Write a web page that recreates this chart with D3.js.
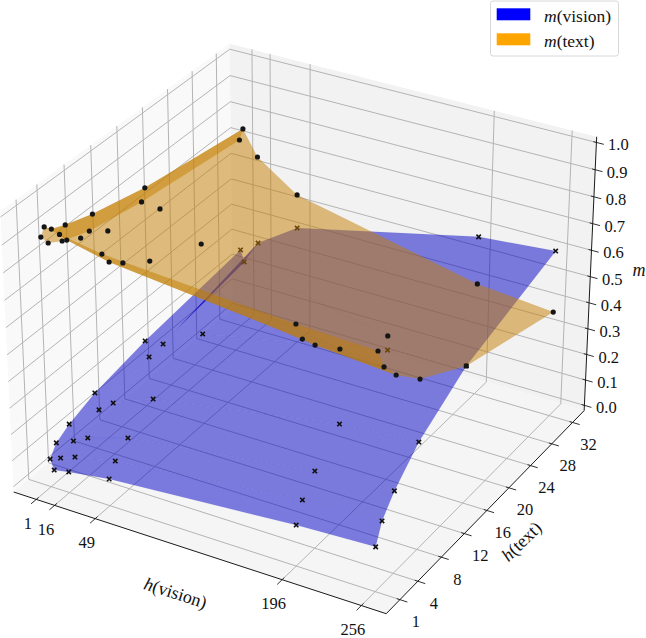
<!DOCTYPE html>
<html>
<head>
<meta charset="utf-8">
<script src="https://cdn.jsdelivr.net/npm/d3@7"></script>
<style>
  html, body { margin: 0; background: #fff; }
  svg { display: block; }
  text { font-family: "Liberation Serif", serif; fill: #111; }
</style>
</head>
<body>
<svg id="chart" width="646" height="638"></svg>
<script>
// Grid of hidden sizes at which the weights were measured
const hVision = [1, 4, 16, 49, 196, 256];
const hText = [1, 2, 4, 8, 16, 32];

// Modality weights, one row per hText value, one column per hVision value
const mVision = [
  [0.086, 0.048, 0.059, 0.082, 0.134, 0.147],
  [0.127, 0.073, 0.095, 0.129, 0.206, 0.221],
  [0.157, 0.096, 0.126, 0.175, 0.270, 0.288],
  [0.194, 0.133, 0.177, 0.240, 0.360, 0.382],
  [0.234, 0.176, 0.243, 0.328, 0.472, 0.498],
  [0.284, 0.240, 0.331, 0.433, 0.590, 0.615]
];
const mText = [
  [0.911, 0.951, 0.940, 0.913, 0.864, 0.853],
  [0.871, 0.925, 0.901, 0.866, 0.791, 0.777],
  [0.841, 0.903, 0.871, 0.825, 0.730, 0.708],
  [0.803, 0.869, 0.823, 0.756, 0.636, 0.612],
  [0.764, 0.820, 0.757, 0.669, 0.525, 0.498],
  [0.714, 0.760, 0.667, 0.562, 0.410, 0.383]
];

const xTicks = [1, 16, 49, 196, 256];
const yTicks = [1, 4, 8, 12, 16, 20, 24, 28, 32];
const zTicks = [0, 0.1, 0.2, 0.3, 0.4, 0.5, 0.6, 0.7, 0.8, 0.9, 1.0];

const BLUE = [0, 0, 255];
const ORANGE = [255, 165, 0];

// Extents of the 3D box in data units (limits plus pane padding)
const xBox = [-17.6, 274.6];
const yBox = [-1.26, 34.26];
const zBox = [-0.0208, 1.0208];

const halfXY = 0.5952, halfZ = 0.4464;
const xs = d3.scaleLinear().domain(xBox).range([-halfXY, halfXY]);
const ys = d3.scaleLinear().domain(yBox).range([-halfXY, halfXY]);
const zs = d3.scaleLinear().domain(zBox).range([-halfZ, halfZ]);

// Perspective camera: elevation 30, azimuth -60, distance 10
const elev = 30 * Math.PI / 180, azim = -60 * Math.PI / 180, dist = 10;
const scalePx = 3585, cx = 304.2, cy = 315;
const w = [Math.cos(elev) * Math.cos(azim), Math.cos(elev) * Math.sin(azim), Math.sin(elev)];
const uAxis = [-Math.sin(azim), Math.cos(azim), 0];
const vAxis = [w[1] * uAxis[2] - w[2] * uAxis[1], w[2] * uAxis[0] - w[0] * uAxis[2], w[0] * uAxis[1] - w[1] * uAxis[0]];
const dot = (a, b) => a[0] * b[0] + a[1] * b[1] + a[2] * b[2];

function project(x, y, z) {
  const p = [xs(x), ys(y), zs(z)];
  const d = dist - dot(p, w);
  return [cx + scalePx * dot(p, uAxis) / d, cy - scalePx * dot(p, vAxis) / d];
}

const path = d3.line();
const svg = d3.select("#chart");
const seg = (g, pts, stroke, width) => g.append("path")
  .attr("d", path(pts.map(p => project(...p))))
  .attr("fill", "none").attr("stroke", stroke).attr("stroke-width", width);

// Back panes
const [x0, x1] = xBox, [y0, y1] = yBox, [z0, z1] = zBox;
const panes = svg.append("g");
[
  { c: "#f9f9f9", pts: [[x0, y0, z0], [x0, y1, z0], [x0, y1, z1], [x0, y0, z1]] },
  { c: "#f2f2f2", pts: [[x0, y1, z0], [x1, y1, z0], [x1, y1, z1], [x0, y1, z1]] },
  { c: "#f5f5f5", pts: [[x0, y0, z0], [x1, y0, z0], [x1, y1, z0], [x0, y1, z0]] }
].forEach(p => panes.append("path")
  .attr("d", path(p.pts.map(q => project(...q))) + "Z")
  .attr("fill", p.c));

// Grid lines wrap from the floor up the back panes
const grid = svg.append("g");
const gridColor = "#b4b4b4", gridWidth = 1;
xTicks.forEach(t => seg(grid, [[t, y0, z0], [t, y1, z0], [t, y1, z1]], gridColor, gridWidth));
yTicks.forEach(t => seg(grid, [[x1, t, z0], [x0, t, z0], [x0, t, z1]], gridColor, gridWidth));
zTicks.forEach(t => seg(grid, [[x0, y0, t], [x0, y1, t], [x1, y1, t]], gridColor, gridWidth));

// Axis spines and straddling tick marks
const axes = svg.append("g");
const axisColor = "#1a1a1a";
seg(axes, [[x0, y0, z0], [x1, y0, z0]], axisColor, 1);
seg(axes, [[x1, y0, z0], [x1, y1, z0]], axisColor, 1);
seg(axes, [[x1, y1, z0], [x1, y1, z1]], axisColor, 1);
const xSpan = x1 - x0, ySpan = y1 - y0;
xTicks.forEach(t => seg(axes, [[t, y0 + 0.01 * ySpan, z0], [t, y0 - 0.022 * ySpan, z0]], axisColor, 0.9));
yTicks.forEach(t => seg(axes, [[x1 - 0.008 * xSpan, t, z0], [x1 + 0.019 * xSpan, t, z0]], axisColor, 0.9));
zTicks.forEach(t => seg(axes, [[x1 - 0.008 * xSpan, y1, t], [x1 + 0.019 * xSpan, y1, t]], axisColor, 0.9));

const labels = svg.append("g").attr("font-size", 16.5);
const tickLabel = (pos, dx, dy, s) => labels.append("text")
  .attr("x", pos[0] + dx).attr("y", pos[1] + dy)
  .attr("text-anchor", "middle").attr("dominant-baseline", "central").text(s);
xTicks.forEach(t => tickLabel(project(t, y0, z0), -8.5, 24, t));
yTicks.forEach(t => tickLabel(project(x1, t, z0), 16, 22, t));
zTicks.forEach(t => tickLabel(project(x1, y1, t), 22, 2.5, t.toFixed(1)));

// Writes name(arg) with an italic symbol and an upright argument
function mathLabel(sel, symbol, arg) {
  sel.append("tspan").attr("font-style", "italic").text(symbol);
  if (arg) sel.append("tspan").text("(" + arg + ")");
  return sel;
}
const axisTitle = (transform, symbol, arg) => mathLabel(labels.append("text")
  .attr("font-size", 18).attr("text-anchor", "middle").attr("dominant-baseline", "central")
  .attr("transform", transform), symbol, arg);
axisTitle("translate(175.5,593) rotate(18)", "h", "vision");
axisTitle("translate(521.5,541.5) rotate(-44)", "h", "text");
axisTitle("translate(639,270)", "m");

// Flat shading from a fixed light: facet brightness follows the normal in data units
const light = [-0.6667, -0.6667, 0.3333];
function shade(color, a, b, c) {
  const e = [b[0] - a[0], b[1] - a[1], b[2] - a[2]], f = [c[0] - a[0], c[1] - a[1], c[2] - a[2]];
  const n = [e[1] * f[2] - e[2] * f[1], e[2] * f[0] - e[0] * f[2], e[0] * f[1] - e[1] * f[0]];
  const len = Math.hypot(...n) || 1;
  const k = 0.3 + 0.7 * (dot(n, light) / len + 1) / 2;
  return d3.rgb(color[0] * k, color[1] * k, color[2] * k);
}

function drawSurface(values, color) {
  const g = svg.append("g");
  const facets = [];
  d3.range(hText.length - 1).forEach(j => d3.range(hVision.length - 1).forEach(i => {
    const q = [[i, j], [i + 1, j], [i + 1, j + 1], [i, j + 1]]
      .map(([a, b]) => [hVision[a], hText[b], values[b][a]]);
    facets.push(q);
  }));
  // A hairline stroke in the facet colour softens the seams between facets
  g.selectAll("path").data(facets).join("path")
    .attr("d", q => path(q.map(p => project(...p))) + "Z")
    .attr("fill", q => shade(color, q[0], q[1], q[2]))
    .attr("fill-opacity", 0.5)
    .attr("stroke", q => shade(color, q[0], q[1], q[2]))
    .attr("stroke-opacity", 0.2)
    .attr("stroke-width", 0.2);
}

const gridPoints = values => hText.flatMap((t, j) => hVision.map((v, i) => project(v, t, values[j][i])));

// Vision surface and its measured points sit beneath the text surface
drawSurface(mVision, BLUE);
const crossSize = 2.2;
svg.append("g").selectAll("path").data(gridPoints(mVision)).join("path")
  .attr("d", d => `M${d[0] - crossSize},${d[1] - crossSize}L${d[0] + crossSize},${d[1] + crossSize}M${d[0] - crossSize},${d[1] + crossSize}L${d[0] + crossSize},${d[1] - crossSize}`)
  .attr("fill", "none").attr("stroke", "#111").attr("stroke-width", 1.6);

drawSurface(mText, ORANGE);
svg.append("g").selectAll("circle").data(gridPoints(mText)).join("circle")
  .attr("cx", d => d[0]).attr("cy", d => d[1]).attr("r", 2.6)
  .attr("fill", "#151515");

// Legend box
const legend = svg.append("g").attr("font-size", 17.5);
legend.append("rect").attr("x", 490.5).attr("y", 1).attr("width", 128).attr("height", 55).attr("rx", 2.5)
  .attr("fill", "#fff").attr("fill-opacity", 0.85).attr("stroke", "#d8d8d8").attr("stroke-width", 1);
const legendItems = [
  { color: d3.rgb(...BLUE), arg: "vision", top: 8.3, mid: 15.5 },
  { color: d3.rgb(...ORANGE), arg: "text", top: 33.3, mid: 40.5 }
];
legendItems.forEach(d => {
  legend.append("rect").attr("x", 496.7).attr("y", d.top).attr("width", 33.6).attr("height", 12).attr("fill", d.color);
  mathLabel(legend.append("text").attr("x", 544).attr("y", d.mid).attr("dominant-baseline", "central"), "m", d.arg);
});
</script>
</body>
</html>
